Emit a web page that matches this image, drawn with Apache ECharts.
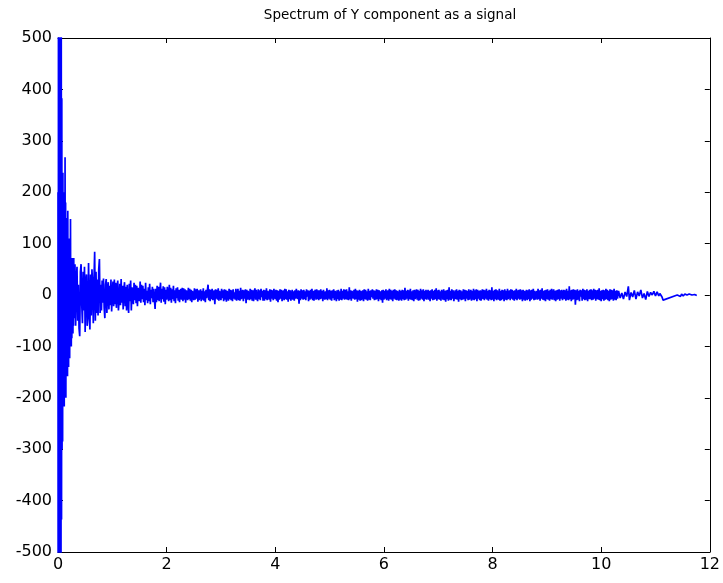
<!DOCTYPE html>
<html>
<head>
<meta charset="utf-8">
<script src="https://cdn.jsdelivr.net/npm/echarts@6/dist/echarts.min.js"></script>
<style>html,body{margin:0;padding:0;background:#fff}#c{width:723px;height:583px}</style>
</head>
<body>
<div id="c"></div>
<script>
const titleText = 'Spectrum of Y component as a signal';
const xTicks = [0, 2, 4, 6, 8, 10, 12];
const yTicks = [-500, -400, -300, -200, -100, 0, 100, 200, 300, 400, 500];

// head: samples from x = 0, step 0.005
const headStart = 0;
const headStep = 0.005;
const headValues = [
  200, -1200, 1500, -1000, 1300, -1400, 900, -800, 1000, -700,
  650, -560, 520, -437, 383, -300, 210, -285, 238, -200,
  150, -180, 200, -217, 140, -150, 268, -120, 180, -200,
  120, -90, 150, -130, 100, -158, 164, -110, 80, -140,
  110, -70, 90, -123, 60, -95, 148, -60, 70, -100,
  45, -84, 72, -50, 65, -75, 30, -60, 72, -45
];

// body: samples from x = 0.3, step 0.0125
const bodyStart = 0.3;
const bodyStep = 0.0125;
const bodyValues = [
  -40, 60, -60, 30, 55, -50, 20, -65, -80, 45, 60, -20, -55, 45, -30, 55, -72, 25, 40, -60,
  -45, 62, -30, -67, 40, -40, 50, 20, -55, 30, 84, -50, 45, -35, 30, -40, 50, 70, -35, 20,
  -30, 28, -15, 32, -25, -45, 20, 31, -35, 10, 25, -28, 18, -20, 30, -32, 5, 26, -22, 30,
  -18, 24, -25, 12, 28, -30, -10, 22, -20, 31, -15, 18, -28, 10, 25, -22, 16, -30, 20, -12,
  -35, 22, -12, 28, -30, 15, 5, -18, 24, -10, 20, -16, 18, -22, 14, -5, -12, 26, -15, 20,
  -8, 18, -14, 12, -20, 24, -10, 8, -16, 15, -12, 22, -18, 10, -6, 16, -14, 12, -10, -27,
  12, -14, 18, -10, 16, -12, 5, 24, -15, 12, -8, 17, -13, 15, -18, 10, -9, 16, 2, -12,
  20, -10, 14, -15, 11, -8, 18, -12, 9, -16, 13, -6, 15, -11, 10, -14, 6, 12, -9, 14,
  -12, 13, -9, 11, -15, 9, 2, -10, 14, -8, 12, -11, 10, -14, 8, -3, -10, 13, -9, 11,
  -7, 12, -13, 9, -10, 4, 11, -12, 8, -9, 13, -11, 7, -14, 10, -6, 9, 20, -10, 11,
  -12, 10, -8, 12, -10, 3, 9, -18, 11, -7, 10, -9, 13, -11, 8, -2, -10, 12, -6, 9,
  -12, 11, -9, 10, -13, 8, 1, -11, 12, -8, 10, -10, 9, -12, 11, -7, 5, -9, 12, -11,
  -9, 12, -10, 8, -11, 14, -8, 2, 10, -12, 9, -7, 11, -16, 10, -9, 8, -3, -10, 12,
  -8, 10, -11, 9, -12, 7, 13, -9, 10, -6, -12, 11, -8, 9, -10, 12, -4, 8, -11, 10,
  -11, 9, -8, 13, -10, 8, 1, -9, 11, -13, 10, -7, 9, -10, 12, -2, -8, 10, -11, 9,
  -14, 8, -9, 11, -7, 10, -12, 3, 9, -10, 12, -8, 11, -9, 7, -13, 10, -8, 9, -11,
  -8, 10, -9, 7, -11, 9, -7, 12, 0, -8, 9, -17, 8, -10, 11, -7, 9, -9, 10, -8,
  7, -10, 11, -3, 9, -12, 8, -9, 10, -7, 12, -10, 8, -11, 6, 10, -9, 11, -8, 9,
  -10, 9, -8, 11, -7, 8, -12, 10, -2, -9, 7, -8, 13, -10, 9, -7, 10, -9, 8, -11,
  9, -6, 11, -10, 8, 2, -12, 9, -8, 10, -11, 7, -9, 12, -10, 8, -7, 11, -9, 10,
  -8, 11, -9, 7, -10, 15, -8, 9, -11, 8, 1, -7, 10, -9, 12, -8, 9, -13, 8, -9,
  10, -11, 8, -10, 3, 9, -12, 11, -8, 10, -9, 7, -11, 12, -9, 8, -10, 9, -4, 11,
  -7, 9, -10, 8, -9, 11, -8, 10, -12, 9, -8, 7, -10, 9, -15, 10, -9, 8, -7, 11,
  -10, 2, 9, -11, 12, -8, 10, -9, 8, -12, 10, -7, 11, -9, 9, -10, 8, -2, -11, 10,
  -9, 8, -11, 10, -8, 9, -10, 14, -9, 8, -7, 10, -11, 9, -8, 12, -9, 7, -10, 9,
  -12, 10, -8, 3, 11, -9, 10, -11, 8, -10, 12, -7, 9, -9, 11, -12, 8, -8, 10, -9,
  -8, 10, -9, 8, -12, 9, -7, 11, -10, 8, -9, 10, -8, 13, -11, 9, -8, 10, -9, 7,
  -11, 10, 2, -9, 11, -10, 8, -13, 9, -8, 10, -11, 15, -9, 8, -10, 11, -7, 9, -12,
  -10, 9, -8, 11, -9, 8, -13, 10, -8, 9, -10, 7, -9, 11, -8, 10, -12, 9, -7, 8,
  -10, 11, -9, 1, 10, -11, 8, -9, 12, -10, 9, -8, 11, -12, 10, -7, 8, -10, 9, -11,
  -9, 11, -8, 10, -10, 9, -7, 12, -9, 8, -11, 10, -8, 9, -10, 15, -9, 8, -12, 10,
  -8, 11, -10, 9, -3, -9, 12, -11, 8, -10, 10, -8, 9, -12, 11, -9, 8, -10, 12, -8,
  -8, 9, -10, 11, -7, 10, -9, 8, -11, 9, -8, 12, -10, 9, -7, 10, -9, 11, -8, 9,
  -12, 10, -9, 8, -11, 2, 10, -10, 9, -8, 11, -12, 9, -9, 10, -7, 12, -10, 8, -9,
  -10, 8, -9, 12, -8, 9, -11, 10, -7, 13, -9, 8, -10, 9, -12, 10, -8, 11, -9, 8,
  -11, 10, -8, 12, -9, 1, 11, -10, 8, -12, 9, -9, 10, -8, 11, -11, 9, -7, 10, -10,
  -9, 10, -8, 9, -11, 12, -9, 8, -10, 17, -8, 9, -12, 10, -9, 11, -8, 10, -19, 9,
  -10, 11, -9, 8, -12, 10, -3, 9, -11, 12, -8, 10, -10, 9, -9, 11, -12, 8, -8, 10,
  -8, 11, -10, 9, -9, 12, -7, 10, -11, 9, -8, 10, -9, 13, -10, 8, -12, 9, -8, 10,
  -11, 9, -9, 12, -8, 10, -10, 8, -12, 11, -9, 10, -8, 9, -11, 12, -9, 8, -10, 9,
  -7
];

// tail: sparse samples
const tailX = [10.32, 10.35, 10.38, 10.41, 10.44, 10.47, 10.50, 10.52, 10.55, 10.58,
  10.61, 10.64, 10.67, 10.70, 10.73, 10.76, 10.79, 10.82, 10.85, 10.88,
  10.91, 10.94, 10.97, 11.00, 11.03, 11.06, 11.08, 11.10, 11.12, 11.14,
  11.40, 11.43, 11.46, 11.48, 11.51, 11.54, 11.58, 11.62, 11.67, 11.72, 11.76];
const tailY = [8, -6, 4, -8, 6, -3, 17, -10, 5, -4,
  9, -8, 6, -2, 10, -6, 3, -9, 7, -3,
  5, 0, 7, -2, 6, -2, 3, 4, -4, -10,
  0, 3, -3, 2, -2, 2, 0, 2, 0, 1, -1];

const data = [];
headValues.forEach((v, i) => data.push([headStart + i * headStep, v]));
bodyValues.forEach((v, i) => data.push([bodyStart + i * bodyStep, v]));
tailX.forEach((x, i) => data.push([x, tailY[i]]));

const font = '"DejaVu Sans", Arial, sans-serif';
const axisLine = { show: true, onZero: false, lineStyle: { color: '#000', width: 1 } };
const tick = { show: true, inside: true, length: 5, lineStyle: { color: '#000', width: 1 } };

const chart = echarts.init(document.getElementById('c'), null, { renderer: 'canvas' });
chart.setOption({
  animation: false,
  backgroundColor: '#fff',
  title: {
    text: titleText,
    left: 385, top: 3, textAlign: 'center',
    textStyle: { fontFamily: font, fontSize: 13.5, fontWeight: 'normal', color: '#000' }
  },
  grid: { left: 58, right: 12, top: 38, bottom: 31, show: false },
  xAxis: [
    { type: 'value', min: xTicks[0], max: xTicks[xTicks.length - 1], interval: 2, position: 'bottom',
      axisLine, axisTick: tick, splitLine: { show: false },
      axisLabel: { color: '#000', fontFamily: font, fontSize: 16, margin: 5 } },
    { type: 'value', min: xTicks[0], max: xTicks[xTicks.length - 1], interval: 2, position: 'top',
      axisLine, axisTick: tick, splitLine: { show: false }, axisLabel: { show: false } }
  ],
  yAxis: [
    { type: 'value', min: yTicks[0], max: yTicks[yTicks.length - 1], interval: 100, position: 'left',
      axisLine, axisTick: tick, splitLine: { show: false },
      axisLabel: { color: '#000', fontFamily: font, fontSize: 16, margin: 6 } },
    { type: 'value', min: yTicks[0], max: yTicks[yTicks.length - 1], interval: 100, position: 'right',
      axisLine, axisTick: tick, splitLine: { show: false }, axisLabel: { show: false } }
  ],
  series: [{
    type: 'line', data, xAxisIndex: 0, yAxisIndex: 0,
    showSymbol: false, symbol: 'none', clip: true,
    lineStyle: { color: '#0000ff', width: 1.7 }
  }]
});
</script>
</body>
</html>
